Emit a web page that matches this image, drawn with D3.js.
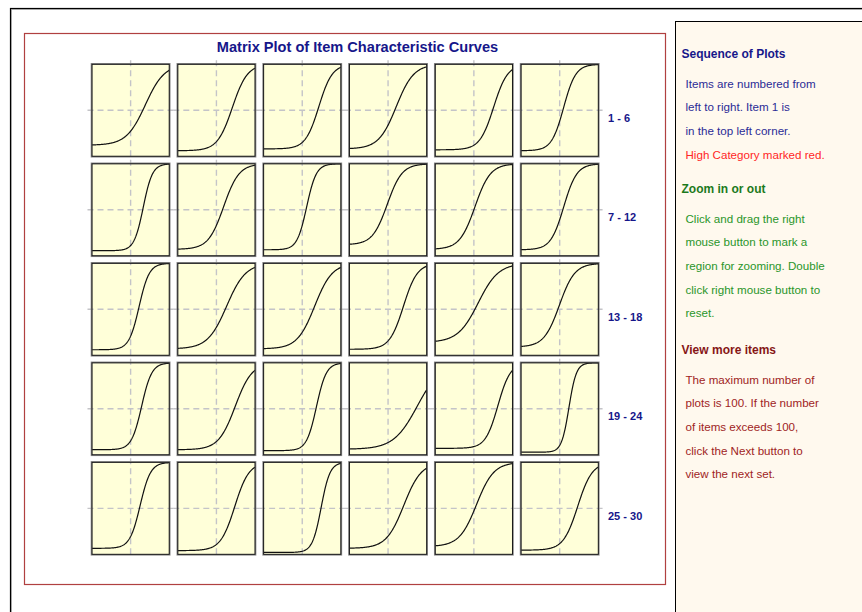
<!DOCTYPE html>
<html>
<head>
<meta charset="utf-8">
<script src="https://cdn.jsdelivr.net/npm/d3@7"></script>
<style>
  body { margin: 0; background: #fff; }
  svg { display: block; }
  text { font-family: "Liberation Sans", Arial, sans-serif; }
</style>
</head>
<body>
<svg id="chart" width="862" height="612"></svg>
<script>
// 3PL item parameters, items 1..30 (row-major, six per row)
const discrimination = [0.60, 0.76, 0.85, 0.65, 0.82, 0.94,
                        1.24, 0.74, 1.18, 0.77, 0.74, 0.87,
                        1.12, 0.60, 0.65, 0.82, 0.56, 0.74,
                        1.12, 0.68, 1.15, 0.48, 0.91, 1.53,
                        1.09, 0.80, 1.29, 0.65, 0.66, 0.79];
const difficulty     = [1.53, 1.65, 1.72, 0.85, 2.05, 0.41,
                        1.31, 0.75, 0.46, -0.08, 0.12, 0.42,
                        0.88, 1.06, 1.29, 1.59, 0.45, -0.03,
                        1.14, 1.95, 1.47, 3.03, 2.49, 0.96,
                        0.99, 1.90, 1.96, 1.63, 0.28, 1.87];
const guessing       = [0.120, 0.060, 0.080, 0.080, 0.070, 0.060,
                        0.055, 0.070, 0.065, 0.120, 0.070, 0.065,
                        0.060, 0.070, 0.070, 0.065, 0.140, 0.090,
                        0.055, 0.055, 0.045, 0.060, 0.070, 0.028,
                        0.065, 0.040, 0.020, 0.065, 0.085, 0.045];
const rowLabels = ["1 - 6", "7 - 12", "13 - 18", "19 - 24", "25 - 30"];
const thetaDomain = [-4, 4];

const helpSections = [
  { title: "Sequence of Plots", titleColor: "#17178a", lines: [
      { t: "Items are numbered from", c: "#2b2b96" },
      { t: "left to right. Item 1 is", c: "#2b2b96" },
      { t: "in the top left corner.", c: "#2b2b96" },
      { t: "High Category marked red.", c: "#ff2626" } ] },
  { title: "Zoom in or out", titleColor: "#1c7a1c", lines: [
      { t: "Click and drag the right", c: "#2a962a" },
      { t: "mouse button to mark a", c: "#2a962a" },
      { t: "region for zooming. Double", c: "#2a962a" },
      { t: "click right mouse button to", c: "#2a962a" },
      { t: "reset.", c: "#2a962a" } ] },
  { title: "View more items", titleColor: "#861616", lines: [
      { t: "The maximum number of", c: "#a02424" },
      { t: "plots is 100. If the number", c: "#a02424" },
      { t: "of items exceeds 100,", c: "#a02424" },
      { t: "click the Next button to", c: "#a02424" },
      { t: "view the next set.", c: "#a02424" } ] }
];

const svg = d3.select("#chart");

// outer window frame
svg.append("rect").attr("x", 11.5).attr("y", 9.5).attr("width", 900).attr("height", 700)
  .attr("fill", "none").attr("stroke", "#b8b8b8").attr("stroke-width", 1);
svg.append("rect").attr("x", 10.5).attr("y", 8.5).attr("width", 900).attr("height", 700)
  .attr("fill", "none").attr("stroke", "#000").attr("stroke-width", 1.2);

// chart frame
svg.append("rect").attr("x", 24.5).attr("y", 33.5).attr("width", 641).attr("height", 551)
  .attr("fill", "#fff").attr("stroke", "#b04040").attr("stroke-width", 1.2);

svg.append("text").attr("x", 357.5).attr("y", 51.5).attr("text-anchor", "middle")
  .attr("font-size", 14.6).attr("font-weight", "bold").attr("fill", "#16168a")
  .text("Matrix Plot of Item Characteristic Curves");

// panel grid
const col = d3.scaleBand().domain(d3.range(6)).range([92, 598.3]).paddingInner(0.1);
const row = d3.scaleBand().domain(d3.range(5)).range([64.3, 554.3]).paddingInner(0.076);
const pw = col.bandwidth(), ph = row.bandwidth();
const x = d3.scaleLinear().domain(thetaDomain).range([0, pw]);
const y = d3.scaleLinear().domain([0, 1]).range([ph, 0]);
const thetaGrid = d3.range(thetaDomain[0], thetaDomain[1] + 1e-9, 0.05);

const items = discrimination.map((a, i) => ({ a, b: difficulty[i], c: guessing[i], i }));
const prob = (d, t) => d.c + (1 - d.c) / (1 + Math.exp(-1.7 * d.a * (t - d.b)));
const line = d3.line().x(t => x(t));

const panels = svg.selectAll("g.panel").data(items).join("g")
  .attr("class", "panel")
  .attr("transform", d => `translate(${col(d.i % 6)},${row(Math.floor(d.i / 6))})`);

panels.append("rect").attr("width", pw).attr("height", ph).attr("fill", "#ffffd9");

panels.append("line")
  .attr("x1", x(0)).attr("x2", x(0)).attr("y1", -4).attr("y2", ph + 4)
  .attr("stroke", "#c4c4c8").attr("stroke-width", 1.4).attr("stroke-dasharray", "6,4");
panels.append("line")
  .attr("x1", -4.5).attr("x2", pw + 4.5).attr("y1", y(0.5)).attr("y2", y(0.5))
  .attr("stroke", "#c4c4c8").attr("stroke-width", 1.4).attr("stroke-dasharray", "6,4");

panels.append("path")
  .attr("d", d => line.y(t => y(prob(d, t)))(thetaGrid))
  .attr("fill", "none").attr("stroke", "#111").attr("stroke-width", 1.2);

panels.append("rect").attr("x", -0.5).attr("y", -0.5).attr("width", pw + 1).attr("height", ph + 1)
  .attr("fill", "none").attr("stroke", "#8a8a8a").attr("stroke-width", 1.6);
panels.append("rect").attr("width", pw).attr("height", ph)
  .attr("fill", "none").attr("stroke", "#1a1a1a").attr("stroke-width", 1);

svg.selectAll("text.rowlab").data(rowLabels).join("text")
  .attr("class", "rowlab")
  .attr("x", 608).attr("y", (d, r) => row(r) + ph / 2 + 11.5)
  .attr("font-size", 11).attr("font-weight", "bold").attr("fill", "#16168a")
  .text(d => d);

// help panel
svg.append("rect").attr("x", 675.5).attr("y", 21.5).attr("width", 300).attr("height", 700)
  .attr("fill", "#fff9ee").attr("stroke", "#000").attr("stroke-width", 1);

const titleY = [57.5, 192.5, 353.5];
const help = svg.append("g");
helpSections.forEach((s, k) => {
  help.append("text").attr("x", 681.5).attr("y", titleY[k])
    .attr("font-size", 12).attr("font-weight", "bold").attr("fill", s.titleColor)
    .text(s.title);
  s.lines.forEach((l, j) => {
    help.append("text").attr("x", 685.5).attr("y", titleY[k] + 30 + j * 23.7)
      .attr("font-size", 11.6).attr("fill", l.c).text(l.t);
  });
});
</script>
</body>
</html>
